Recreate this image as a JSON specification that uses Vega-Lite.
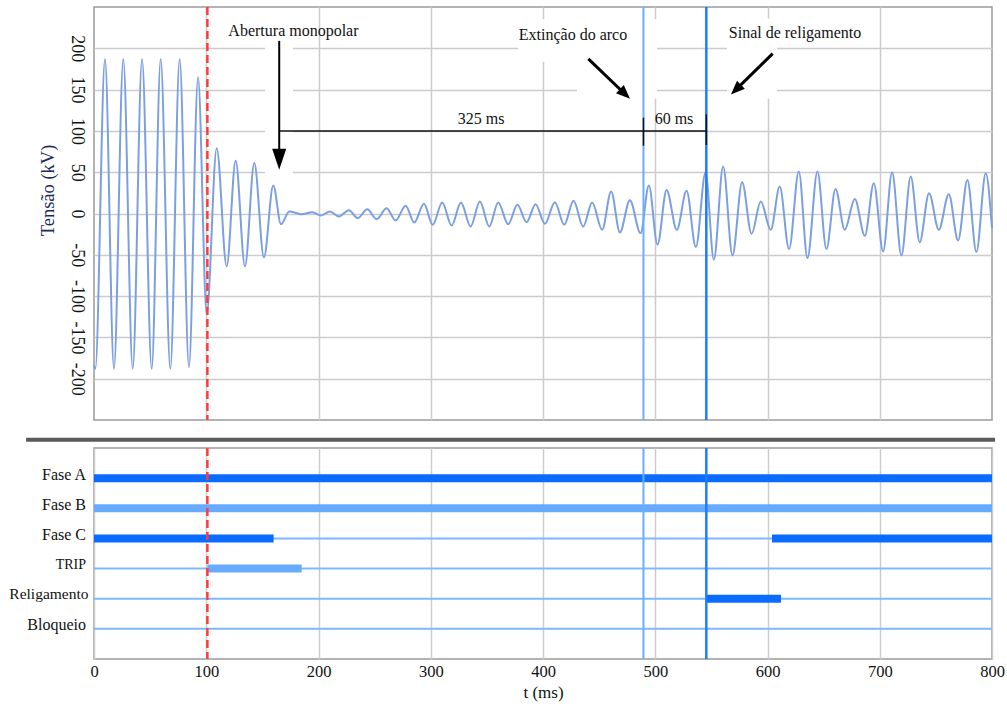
{
  "$schema": "https://vega.github.io/schema/vega-lite/v6.json",
  "padding": {"left": 8, "top": 5, "right": 2, "bottom": 2},
  "bounds": "flush",
  "spacing": 28,
  "config": {
    "view": {"stroke": "#9a9a9a", "strokeWidth": 1.5},
    "font": "Liberation Serif",
    "axis": {"gridColor": "#cccccc", "gridWidth": 1.5, "labelFont": "Liberation Serif", "titleFont": "Liberation Serif", "labelColor": "#111111", "titleColor": "#111111", "ticks": false, "domain": false, "titleFontWeight": "normal"}
  },
  "datasets": {
    "wave": [
      {"t": 0, "v": -184}, {"t": 1.2, "v": -188}, {"t": 9.8, "v": 187}, {"t": 17.8, "v": -188}, {"t": 26.1, "v": 187},
      {"t": 34.5, "v": -188}, {"t": 42.8, "v": 187}, {"t": 51.4, "v": -188}, {"t": 59.4, "v": 187}, {"t": 68.0, "v": -188},
      {"t": 76.3, "v": 187}, {"t": 84.6, "v": -186}, {"t": 92.7, "v": 165}, {"t": 100.4, "v": -122}, {"t": 109.3, "v": 79},
      {"t": 118.2, "v": -64}, {"t": 126.2, "v": 64}, {"t": 134.5, "v": -64}, {"t": 142.8, "v": 61}, {"t": 151.4, "v": -53},
      {"t": 159.7, "v": 34}, {"t": 166.6, "v": -13}, {"t": 174.0, "v": 2.5}, {"t": 184.6, "v": -0.8}, {"t": 194.5, "v": 1.6},
      {"t": 202.2, "v": -2.4}, {"t": 210.2, "v": 2.4}, {"t": 218.2, "v": -3.6}, {"t": 227.1, "v": 4}, {"t": 234.9, "v": -5.7},
      {"t": 243.4, "v": 5.2}, {"t": 251.8, "v": -6.8}, {"t": 260.7, "v": 6.4}, {"t": 268.7, "v": -8.5}, {"t": 277.6, "v": 9.3},
      {"t": 285.3, "v": -10.9}, {"t": 293.9, "v": 11.7}, {"t": 301.7, "v": -13.7}, {"t": 310.2, "v": 13.3}, {"t": 318.6, "v": -14.5},
      {"t": 326.9, "v": 13.3}, {"t": 335.5, "v": -15.7}, {"t": 343.8, "v": 14.5}, {"t": 352.1, "v": -15.7}, {"t": 360.1, "v": 13.3},
      {"t": 369.0, "v": -12.9}, {"t": 377.2, "v": 10.5}, {"t": 385.4, "v": -10.5}, {"t": 393.4, "v": 11.3}, {"t": 401.7, "v": -12.5},
      {"t": 410.6, "v": 13.7}, {"t": 418.9, "v": -13.7}, {"t": 427.2, "v": 15.3}, {"t": 435.8, "v": -15.7}, {"t": 443.8, "v": 13.3},
      {"t": 452.7, "v": -19.7}, {"t": 460.7, "v": 26.6}, {"t": 468.5, "v": -22.9}, {"t": 477.4, "v": 16.1}, {"t": 486.9, "v": -23.8},
      {"t": 494.3, "v": 33.8}, {"t": 502.0, "v": -37.8}, {"t": 510.1, "v": 28.6}, {"t": 519.2, "v": -19.7}, {"t": 527.9, "v": 27.4},
      {"t": 536.2, "v": -40.7}, {"t": 544.8, "v": 49.9}, {"t": 552.2, "v": -55.9}, {"t": 560.5, "v": 56.8}, {"t": 568.8, "v": -50.7},
      {"t": 577.4, "v": 37.8}, {"t": 585.8, "v": -24.5}, {"t": 594.0, "v": 14.5}, {"t": 602.9, "v": -19.7}, {"t": 610.9, "v": 32.6},
      {"t": 619.2, "v": -43.1}, {"t": 627.9, "v": 50.7}, {"t": 635.6, "v": -54}, {"t": 644.5, "v": 50.7}, {"t": 652.5, "v": -43.1},
      {"t": 660.6, "v": 29.8}, {"t": 668.8, "v": -19.7}, {"t": 677.8, "v": 17.7}, {"t": 686.7, "v": -27}, {"t": 694.7, "v": 36.6},
      {"t": 703.0, "v": -45.9}, {"t": 711.0, "v": 49.9}, {"t": 719.3, "v": -50.7}, {"t": 727.6, "v": 44.7}, {"t": 735.6, "v": -34.7},
      {"t": 743.9, "v": 24.5}, {"t": 752.6, "v": -19.7}, {"t": 761.5, "v": 23.3}, {"t": 769.8, "v": -32.6}, {"t": 778.1, "v": 40.7},
      {"t": 786.1, "v": -46.7}, {"t": 794.4, "v": 48.7}, {"t": 800, "v": -18}
    ],
    "events": [
      {"event": "Abertura", "t": 101},
      {"event": "Extinção", "t": 489.5},
      {"event": "Religamento", "t": 545.5}
    ],
    "masks": [
      {"t1": 152.3, "t2": 177.3, "v1": 41, "v2": 208},
      {"t1": 377.7, "t2": 501.6, "v1": 183.6, "v2": 235.5},
      {"t1": 430.3, "t2": 501.6, "v1": 138.9, "v2": 183.6},
      {"t1": 564, "t2": 682.4, "v1": 203, "v2": 236},
      {"t1": 564, "t2": 608.5, "v1": 139, "v2": 203}
    ],
    "bracket": [
      {"t1": 165, "t2": 545.5, "v1": 100, "v2": 100},
      {"t1": 489.5, "t2": 489.5, "v1": 82, "v2": 116},
      {"t1": 545.5, "t2": 545.5, "v1": 83, "v2": 120}
    ],
    "shafts": [
      {"kind": "vertical", "t1": 165, "t2": 165, "v1": 209, "v2": 70},
      {"kind": "diagonal", "t1": 440.4, "t2": 473.0, "v1": 187.2, "v2": 144.7},
      {"kind": "diagonal", "t1": 604.6, "t2": 571.9, "v1": 193.6, "v2": 150}
    ],
    "heads": [
      {"name": "Abertura", "t": 165, "v": 65.8},
      {"name": "Extinção", "t": 473.0, "v": 144.7},
      {"name": "Sinal", "t": 571.9, "v": 150}
    ],
    "notes": [
      {"label": "Abertura monopolar", "t": 177.7, "v": 221},
      {"label": "Extinção do arco", "t": 426.7, "v": 216},
      {"label": "Sinal de religamento", "t": 624.5, "v": 218},
      {"label": "325 ms", "t": 344.8, "v": 115},
      {"label": "60 ms", "t": 516.7, "v": 114}
    ],
    "separator": [{"t1": -60.5, "t2": 802.7, "v": -274}],
    "signals": [
      {"signal": "Fase A", "t0": 0, "t1": 800},
      {"signal": "Fase B", "t0": 0, "t1": 800},
      {"signal": "Fase C", "t0": 0, "t1": 800},
      {"signal": "TRIP", "t0": 0, "t1": 800},
      {"signal": "Religamento", "t0": 0, "t1": 800},
      {"signal": "Bloqueio", "t0": 0, "t1": 800}
    ],
    "states": [
      {"signal": "Fase A", "t0": 0, "t1": 800},
      {"signal": "Fase B", "t0": 0, "t1": 800},
      {"signal": "Fase C", "t0": 0, "t1": 160},
      {"signal": "Fase C", "t0": 604, "t1": 800},
      {"signal": "TRIP", "t0": 101, "t1": 185},
      {"signal": "Religamento", "t0": 545.5, "t1": 612}
    ]
  },
  "vconcat": [
    {
      "width": 898,
      "height": 413,
      "layer": [
        {
          "data": {"name": "masks"},
          "mark": {"type": "rect", "fill": "white", "strokeWidth": 0},
          "encoding": {
            "x": {"field": "t1", "type": "quantitative", "scale": {"domain": [0, 800], "nice": false, "zero": false},
                  "axis": {"title": null, "labels": false, "grid": true, "values": [100, 200, 300, 400, 500, 600, 700]}},
            "x2": {"field": "t2"},
            "y": {"field": "v1", "type": "quantitative", "scale": {"domain": [-250, 250], "nice": false, "zero": false},
                  "axis": {"title": "Tensão (kV)", "grid": true, "values": [-200, -150, -100, -50, 0, 50, 100, 150, 200],
                           "labelExpr": "datum.value < 0 ? '-' + abs(datum.value) : '' + datum.value",
                           "labelAngle": 90, "labelAlign": "center", "labelBaseline": "top", "labelFontSize": 18, "labelPadding": 9,
                           "titleFontSize": 18.5, "titleColor": "#1c2a5a", "titleAngle": -90, "titleAlign": "center", "titleBaseline": "middle",
                           "titleX": -47, "titleY": 183}},
            "y2": {"field": "v2"}
          }
        },
        {
          "data": {"name": "wave"},
          "mark": {"type": "line", "interpolate": "monotone", "color": "#7b9fe2", "strokeWidth": 2},
          "encoding": {
            "x": {"field": "t", "type": "quantitative"},
            "y": {"field": "v", "type": "quantitative"}
          }
        },
        {
          "data": {"name": "events"},
          "transform": [{"filter": "datum.event === 'Abertura'"}],
          "mark": {"type": "rule", "color": "#ff3b3b", "strokeWidth": 2.5, "strokeDash": [8, 4]},
          "encoding": {"x": {"field": "t", "type": "quantitative"}}
        },
        {
          "data": {"name": "events"},
          "transform": [{"filter": "datum.event === 'Extinção'"}],
          "mark": {"type": "rule", "color": "#6aaeff", "strokeWidth": 2},
          "encoding": {"x": {"field": "t", "type": "quantitative"}}
        },
        {
          "data": {"name": "events"},
          "transform": [{"filter": "datum.event === 'Religamento'"}],
          "mark": {"type": "rule", "color": "#1f7bff", "strokeWidth": 2.5},
          "encoding": {"x": {"field": "t", "type": "quantitative"}}
        },
        {
          "data": {"name": "bracket"},
          "mark": {"type": "rule", "color": "#111111", "strokeWidth": 1.5},
          "encoding": {
            "x": {"field": "t1", "type": "quantitative"}, "x2": {"field": "t2"},
            "y": {"field": "v1", "type": "quantitative"}, "y2": {"field": "v2"}
          }
        },
        {
          "data": {"name": "shafts"},
          "transform": [{"filter": "datum.kind === 'vertical'"}],
          "mark": {"type": "rule", "color": "#000000", "strokeWidth": 2},
          "encoding": {
            "x": {"field": "t1", "type": "quantitative"}, "x2": {"field": "t2"},
            "y": {"field": "v1", "type": "quantitative"}, "y2": {"field": "v2"}
          }
        },
        {
          "data": {"name": "shafts"},
          "transform": [{"filter": "datum.kind === 'diagonal'"}],
          "mark": {"type": "rule", "color": "#000000", "strokeWidth": 3},
          "encoding": {
            "x": {"field": "t1", "type": "quantitative"}, "x2": {"field": "t2"},
            "y": {"field": "v1", "type": "quantitative"}, "y2": {"field": "v2"}
          }
        },
        {
          "data": {"name": "heads"},
          "transform": [{"filter": "datum.name === 'Abertura'"}],
          "mark": {"type": "point", "shape": "M-0.67,-1L0.67,-1L0,1Z", "size": 441, "filled": true, "color": "#000000", "opacity": 1},
          "encoding": {"x": {"field": "t", "type": "quantitative"}, "y": {"field": "v", "type": "quantitative"}}
        },
        {
          "data": {"name": "heads"},
          "transform": [{"filter": "datum.name === 'Extinção'"}],
          "mark": {"type": "point", "shape": "M-0.8,-1L0.8,-1L0,1Z", "size": 196, "angle": -46, "filled": true, "color": "#000000", "opacity": 1},
          "encoding": {"x": {"field": "t", "type": "quantitative"}, "y": {"field": "v", "type": "quantitative"}}
        },
        {
          "data": {"name": "heads"},
          "transform": [{"filter": "datum.name === 'Sinal'"}],
          "mark": {"type": "point", "shape": "M-0.8,-1L0.8,-1L0,1Z", "size": 196, "angle": 45.5, "filled": true, "color": "#000000", "opacity": 1},
          "encoding": {"x": {"field": "t", "type": "quantitative"}, "y": {"field": "v", "type": "quantitative"}}
        },
        {
          "data": {"name": "notes"},
          "mark": {"type": "text", "font": "Liberation Serif", "fontSize": 16, "color": "#111111", "align": "center", "baseline": "middle"},
          "encoding": {
            "x": {"field": "t", "type": "quantitative"},
            "y": {"field": "v", "type": "quantitative"},
            "text": {"field": "label"}
          }
        },
        {
          "data": {"name": "separator"},
          "mark": {"type": "rule", "color": "#5a5a5a", "strokeWidth": 4, "clip": false},
          "encoding": {
            "x": {"field": "t1", "type": "quantitative"}, "x2": {"field": "t2"},
            "y": {"field": "v", "type": "quantitative"}
          }
        }
      ]
    },
    {
      "width": 898,
      "height": 211,
      "layer": [
        {
          "data": {"name": "signals"},
          "mark": {"type": "rule", "color": "#80b8ff", "strokeWidth": 2},
          "encoding": {
            "x": {"field": "t0", "type": "quantitative", "scale": {"domain": [0, 800], "nice": false, "zero": false},
                  "axis": {"title": "t (ms)", "grid": true, "values": [0, 100, 200, 300, 400, 500, 600, 700, 800], "labelFlush": false,
                           "labelFontSize": 16.5, "titleFontSize": 17, "labelPadding": 4, "titlePadding": 5}},
            "x2": {"field": "t1"},
            "y": {"field": "signal", "type": "ordinal",
                  "scale": {"type": "point", "padding": 1, "domain": ["Fase A", "Fase B", "Fase C", "TRIP", "Religamento", "Bloqueio"]},
                  "axis": {"title": null, "grid": false, "labelBaseline": "middle",
                           "labelPadding": {"condition": {"test": "datum.value === 'Religamento'", "value": 6}, "value": 8.5},
                           "labelOffset": {"condition": {"test": "datum.value === 'Religamento'", "value": -5}, "value": -4},
                           "labelFontSize": {"condition": [{"test": "datum.value === 'TRIP'", "value": 14}, {"test": "datum.value === 'Religamento'", "value": 15.5}], "value": 16}}}
          }
        },
        {
          "data": {"name": "states"},
          "mark": {"type": "rule", "strokeWidth": 8},
          "encoding": {
            "x": {"field": "t0", "type": "quantitative"},
            "x2": {"field": "t1"},
            "y": {"field": "signal", "type": "ordinal"},
            "color": {"field": "signal", "type": "nominal", "legend": null,
                      "scale": {"domain": ["Fase A", "Fase B", "Fase C", "TRIP", "Religamento"],
                                "range": ["#0a6cff", "#66abff", "#0a6cff", "#66abff", "#0a6cff"]}}
          }
        },
        {
          "data": {"name": "events"},
          "transform": [{"filter": "datum.event === 'Abertura'"}],
          "mark": {"type": "rule", "color": "#ff3b3b", "strokeWidth": 2.5, "strokeDash": [8, 4]},
          "encoding": {"x": {"field": "t", "type": "quantitative"}}
        },
        {
          "data": {"name": "events"},
          "transform": [{"filter": "datum.event === 'Extinção'"}],
          "mark": {"type": "rule", "color": "#6aaeff", "strokeWidth": 2},
          "encoding": {"x": {"field": "t", "type": "quantitative"}}
        },
        {
          "data": {"name": "events"},
          "transform": [{"filter": "datum.event === 'Religamento'"}],
          "mark": {"type": "rule", "color": "#1f7bff", "strokeWidth": 2.5},
          "encoding": {"x": {"field": "t", "type": "quantitative"}}
        }
      ]
    }
  ]
}
